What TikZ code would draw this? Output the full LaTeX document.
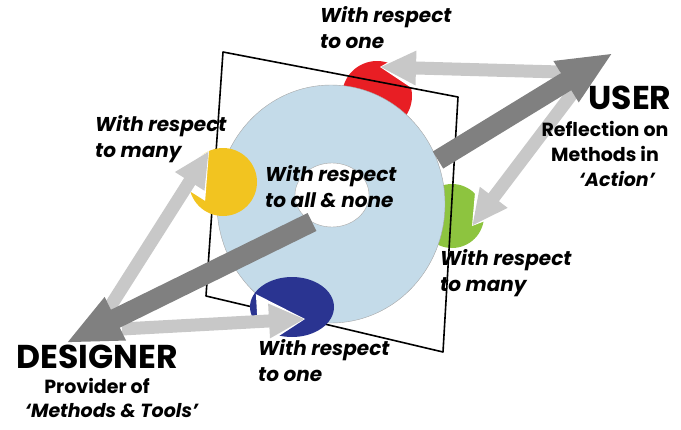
\documentclass[tikz,border=0pt]{standalone}
\usepackage{fontspec}
\setmainfont{Poppins}
\usetikzlibrary{arrows.meta,calc}

\definecolor{disc}{RGB}{196,219,233}
\definecolor{darkgrey}{RGB}{128,128,128}
\definecolor{lightgrey}{RGB}{200,200,200}
\definecolor{pacred}{RGB}{232,30,36}
\definecolor{pacyellow}{RGB}{242,196,32}
\definecolor{pacgreen}{RGB}{141,196,63}
\definecolor{pacnavy}{RGB}{42,52,145}

\tikzset{
  darkarrow/.style={draw=darkgrey, line width=20pt, -{Triangle[length=55pt,width=44pt]}},
  lightarrow/.style={draw=lightgrey, line width=13pt, -{Triangle[length=36pt,width=32pt]}},
  remark/.style={font=\bfseries\itshape\fontsize{20}{26}\selectfont, align=left, anchor=north west, inner sep=0pt},
  who/.style={font=\bfseries\fontsize{33}{33}\selectfont, inner sep=0pt},
  role/.style={font=\bfseries\fontsize{19}{25}\selectfont, align=center, inner sep=0pt},
}

\begin{document}
\begin{tikzpicture}[x=1pt, y=-1pt, line join=round]
  \useasboundingbox (0,0) rectangle (681,429);

  % ends of the connectors
  \coordinate (user) at (613,53);
  \coordinate (designer) at (66,343);
  \coordinate (hole) at (312,222);
  \coordinate (rim) at (438,160);
  \coordinate (redtip) at (380,67);     \coordinate (redtail) at (560,72);
  \coordinate (greentip) at (472,226);  \coordinate (greentail) at (578,86);
  \coordinate (yellowtip) at (209,151); \coordinate (yellowtail) at (108,310);
  \coordinate (navytip) at (305,319);   \coordinate (navytail) at (122,329);

  % circles behind the disc
  \fill[pacred] (377,96) circle (35);
  \fill[white] (redtip) -- ($(redtip)!55pt!32:(redtail)$) -- ($(redtip)!55pt!-32:(redtail)$) -- cycle;
  \fill[pacgreen] (452,216) circle (32);
  \fill[white] (greentip) -- ($(greentip)!55pt!32:(greentail)$) -- ($(greentip)!55pt!-32:(greentail)$) -- cycle;

  \draw[line width=1.6pt] (223,52) -- (458,97) -- (443,352) -- (206,296) -- cycle;

  % disc
  \draw[fill=disc, draw=gray!70] (331,204) ellipse (114 and 119);
  \draw[fill=white, draw=gray!70] (332,195) ellipse (37 and 32);

  \fill[pacyellow] (223,182) circle (34);
  \fill[white] (yellowtip) -- ($(yellowtip)!50pt!28:(yellowtail)$) -- ($(yellowtip)!50pt!-28:(yellowtail)$) -- cycle;
  \fill[pacnavy] (292,307) ellipse (42 and 30);
  \fill[white] (navytip) -- ($(navytip)!55pt!30:(navytail)$) -- ($(navytip)!55pt!-30:(navytail)$) -- cycle;

  \draw[lightarrow] (redtail) -- (redtip);
  \draw[lightarrow] (greentail) -- (greentip);
  \draw[lightarrow] (yellowtail) -- (yellowtip);
  \draw[lightarrow] (navytail) -- (navytip);

  \draw[darkarrow] (rim) -- (user);
  \draw[darkarrow] (hole) -- (designer);

  % texts
  \node[remark] (one1) at (320,6) {With respect\\to one};
  \node[remark] (many1) at (95,115) {With respect\\to many};
  \node[remark] (all) at (265,165) {With respect\\to all \& none};
  \node[remark] (many2) at (440,249) {With respect\\to many};
  \node[remark] (one2) at (258,339) {With respect\\to one};

  \node[who] (usr) at (630,98) {USER};
  \node[role, anchor=north] (usrrole) at (605,121) {Reflection on\\Methods in\\\hspace*{1.3em}\textit{‘Action’}};
  \node[who] (des) at (97,357) {DESIGNER};
  \node[role] (desrole1) at (97,386) {Provider of};
  \node[role] (desrole2) at (112,411) {\textit{‘Methods \& Tools’}};
\end{tikzpicture}
\end{document}
